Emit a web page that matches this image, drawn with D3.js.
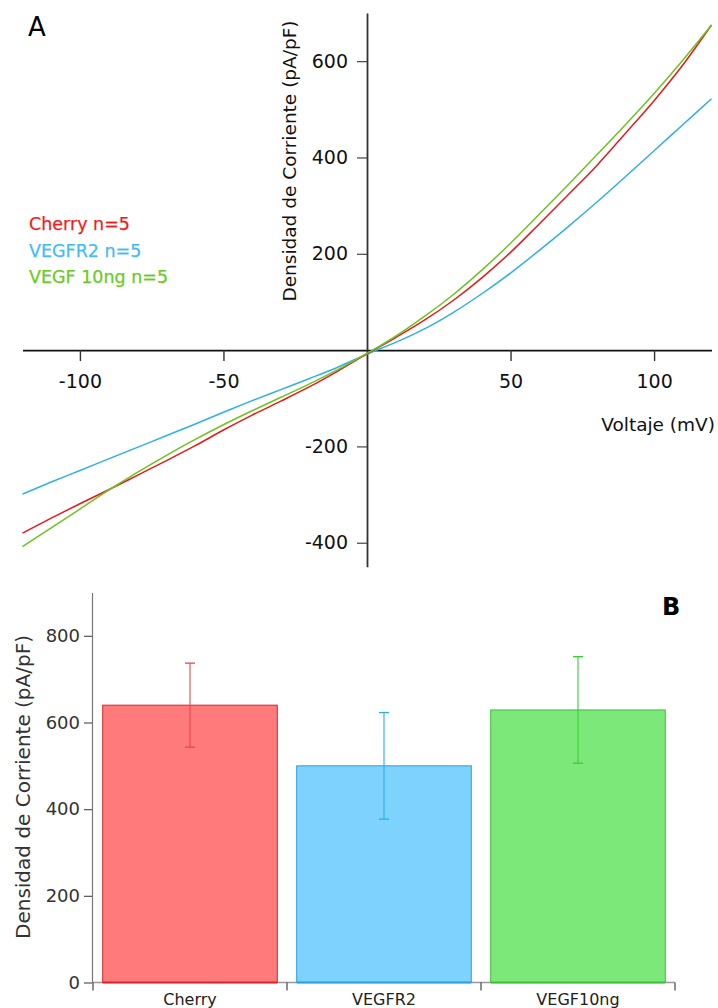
<!DOCTYPE html>
<html>
<head>
<meta charset="utf-8">
<script src="https://cdn.jsdelivr.net/npm/d3@7"></script>
<style>
  html, body { margin: 0; padding: 0; background: #fff; }
  svg { display: block; }
  text { font-family: "DejaVu Sans", sans-serif; }
</style>
</head>
<body>
<script>
// ---------- DATA (panel A: I-V curves) ----------
const voltages = [-120,-110,-100,-90,-80,-70,-60,-50,-40,-30,-20,-10,0,10,20,30,40,50,60,70,80,90,100,110,120];
const cherryIV = [-380,-349,-319,-290,-260,-230,-199,-166,-135,-106,-76,-43,-8,26,62,103,150,203,262,322,383,450,518,592,675];
const vegfr2IV = [-299,-274,-250,-226,-202,-178,-154,-129,-105,-82,-59,-35,-8,16,44,78,117,160,207,256,307,360,414,468,522];
const vegf10IV = [-408,-369,-330,-291,-254,-219,-186,-155,-126,-98,-70,-40,-7,29,70,115,166,222,282,343,405,468,533,602,675];
const legendLabels = ["Cherry n=5", "VEGFR2 n=5", "VEGF 10ng n=5"];
const ivXTicks = [-100, -50, 50, 100];
const ivYTicks = [-400, -200, 200, 400, 600];

// ---------- DATA (panel B: bars) ----------
const groups = ["Cherry", "VEGFR2", "VEGF10ng"];
const means = [640, 500, 629];
const sems = [97, 123, 123];
const barYTicks = [0, 200, 400, 600, 800];

// ---------- STYLE ----------
const lineColors = ["#e41a1c", "#2eb0ea", "#6cc41e"];
const legendColors = ["#f51a1a", "#44bcf2", "#6ccb22"];
const barFill = ["#ff7b7b", "#7dd3fd", "#7de87a"];
const barStroke = ["#d9262a", "#2a9fdc", "#3dbf3a"];
const errColor = ["#ea4646", "#2aaee9", "#33cf33"];
const fmt = d => String(d); // plain hyphen-minus like the reference

const svg = d3.select("body").append("svg").attr("width", 718).attr("height", 1008);

// ================= PANEL A =================
const xIV = d3.scaleLinear().domain([-120, 120]).range([22.5, 711.5]);
const yIV = d3.scaleLinear().domain([-450, 700]).range([566.8, 13]);

const series = [cherryIV, vegfr2IV, vegf10IV];
const line = d3.line()
  .x((d, i) => xIV(voltages[i]))
  .y(d => yIV(d))
  .curve(d3.curveMonotoneX);

// axes
const gx = svg.append("g")
  .attr("transform", `translate(0,${yIV(0)})`)
  .call(d3.axisBottom(xIV).tickValues(ivXTicks).tickFormat(fmt).tickSize(11).tickPadding(13).tickSizeOuter(0));
gx.select(".domain").attr("stroke", "#111").attr("stroke-width", 1.6);
gx.selectAll(".tick line").attr("stroke", "#333").attr("stroke-width", 1.4);
gx.selectAll(".tick text").attr("font-size", 19).attr("font-family", "DejaVu Sans").attr("fill", "#111");

const gy = svg.append("g")
  .attr("transform", `translate(${xIV(0)},0)`)
  .call(d3.axisLeft(yIV).tickValues(ivYTicks).tickFormat(fmt).tickSize(10).tickPadding(9).tickSizeOuter(0));
gy.select(".domain").attr("stroke", "#333").attr("stroke-width", 1.8);
gy.selectAll(".tick line").attr("stroke", "#444").attr("stroke-width", 1.2);
gy.selectAll(".tick text").attr("font-size", 19).attr("font-family", "DejaVu Sans").attr("fill", "#111");

// curves (blue, red, green order so green is on top like the reference)
[1, 0, 2].forEach(k => {
  svg.append("path")
    .datum(series[k])
    .attr("d", line)
    .attr("fill", "none")
    .attr("stroke", lineColors[k])
    .attr("stroke-width", 1.5);
});

// axis titles
svg.append("text")
  .attr("transform", `translate(295.5,161) rotate(-90)`)
  .attr("text-anchor", "middle")
  .attr("font-size", 18.5)
  .attr("fill", "#111")
  .text("Densidad de Corriente (pA/pF)");

svg.append("text")
  .attr("x", 715).attr("y", 431)
  .attr("text-anchor", "end")
  .attr("font-size", 18.5)
  .attr("fill", "#111")
  .text("Voltaje (mV)");

// panel letter
svg.append("text")
  .attr("x", 28).attr("y", 36)
  .attr("font-size", 26)
  .attr("fill", "#000")
  .text("A");

// legend
legendLabels.forEach((t, i) => {
  svg.append("text")
    .attr("x", 29).attr("y", 230 + i * 26.5)
    .attr("font-size", 17.5)
    .attr("fill", legendColors[i])
    .attr("stroke", legendColors[i]).attr("stroke-width", 0.25)
    .text(t);
});

// ================= PANEL B =================
const xB = d3.scaleBand().domain(groups).range([93, 675]).paddingInner(0.1).paddingOuter(0.05);
const yB = d3.scaleLinear().domain([0, 900]).range([982.5, 592.5]);

const gyB = svg.append("g")
  .attr("transform", `translate(92,0)`)
  .call(d3.axisLeft(yB).tickValues(barYTicks).tickFormat(fmt).tickSize(8).tickPadding(4).tickSizeOuter(0));
gyB.select(".domain").attr("stroke", "#777").attr("stroke-width", 1.2);
gyB.selectAll(".tick line").attr("stroke", "#555").attr("stroke-width", 1.2);
gyB.selectAll(".tick text").attr("font-size", 18).attr("font-family", "DejaVu Sans").attr("fill", "#333");

// x axis (category labels)
const gxB = svg.append("g")
  .attr("transform", `translate(0,${yB(0)})`)
  .call(d3.axisBottom(xB).tickSize(0).tickPadding(11));
gxB.select(".domain").remove();
gxB.selectAll(".tick text").attr("font-size", 16).attr("font-family", "DejaVu Sans").attr("fill", "#222");

// axis baseline and boundary ticks
const half = xB.step() * xB.paddingInner() / 2;
const bounds = groups.map(g => xB(g) - half).concat([xB(groups[groups.length - 1]) + xB.bandwidth() + half]);
svg.append("line")
  .attr("x1", 92).attr("x2", bounds[bounds.length - 1])
  .attr("y1", yB(0)).attr("y2", yB(0))
  .attr("stroke", "#999").attr("stroke-width", 1.6);
svg.selectAll(".btick").data(bounds).enter().append("line")
  .attr("x1", d => d).attr("x2", d => d)
  .attr("y1", yB(0)).attr("y2", yB(0) + 8)
  .attr("stroke", "#444").attr("stroke-width", 1.2);

// bars
groups.forEach((g, i) => {
  svg.append("rect")
    .attr("x", xB(g)).attr("y", yB(means[i]))
    .attr("width", xB.bandwidth()).attr("height", yB(0) - yB(means[i]))
    .attr("fill", barFill[i])
    .attr("stroke", barStroke[i]).attr("stroke-width", 1);
  svg.append("line")
    .attr("x1", xB(g)).attr("x2", xB(g) + xB.bandwidth())
    .attr("y1", yB(0)).attr("y2", yB(0))
    .attr("stroke", barStroke[i]).attr("stroke-width", 1.8);
});

// error bars
groups.forEach((g, i) => {
  const cx = xB(g) + xB.bandwidth() / 2;
  const top = yB(means[i] + sems[i]);
  const bot = yB(means[i] - sems[i]);
  svg.append("line").attr("x1", cx).attr("x2", cx).attr("y1", top).attr("y2", bot)
    .attr("stroke", errColor[i]).attr("stroke-width", 1.1);
  [top, bot].forEach(yy => {
    svg.append("line").attr("x1", cx - 5).attr("x2", cx + 5).attr("y1", yy).attr("y2", yy)
      .attr("stroke", errColor[i]).attr("stroke-width", 1.3);
  });
});

// y title
svg.append("text")
  .attr("transform", `translate(29.5,787) rotate(-90)`)
  .attr("text-anchor", "middle")
  .attr("font-size", 20)
  .attr("fill", "#333")
  .text("Densidad de Corriente (pA/pF)");

// panel letter
svg.append("text")
  .attr("x", 662).attr("y", 615)
  .attr("font-size", 24)
  .attr("font-weight", "bold")
  .attr("fill", "#000")
  .text("B");
</script>
</body>
</html>
